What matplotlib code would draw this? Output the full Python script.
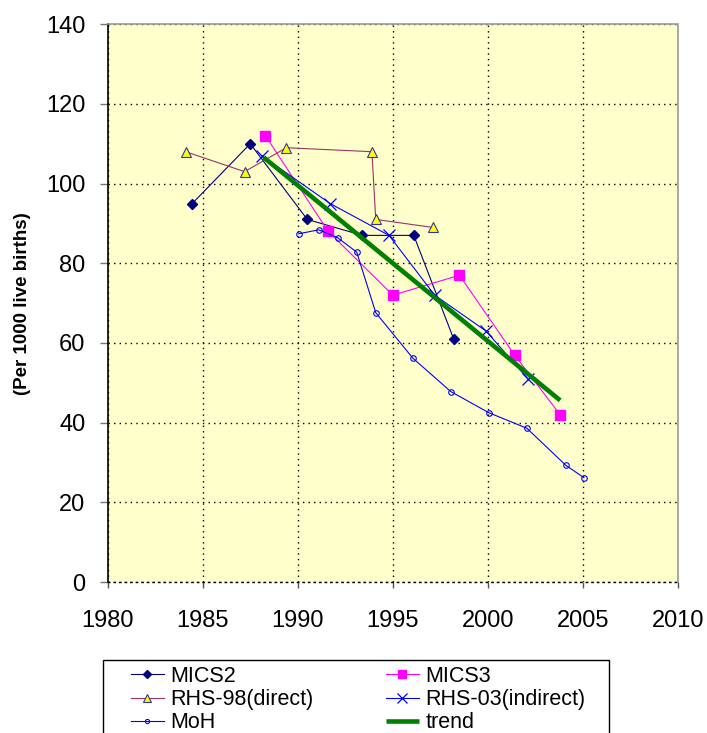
import matplotlib.pyplot as plt
from matplotlib.patches import Rectangle

plt.rcParams['font.family'] = ['Liberation Sans', 'DejaVu Sans']

# Survey series: years and rates per 1000 live births
mics2_year = [1984.45, 1987.5, 1990.5, 1993.4, 1996.1, 1998.2]
mics2_val = [95, 110, 91, 87, 87, 61]

mics3_year = [1988.3, 1991.6, 1995.0, 1998.5, 2001.4, 2003.8]
mics3_val = [112, 88, 72, 77, 57, 42]

rhs98_year = [1984.1, 1987.2, 1989.4, 1993.9, 1994.1, 1997.1]
rhs98_val = [108, 103, 109, 108, 91, 89]

rhs03_year = [1988.1, 1991.7, 1994.8, 1997.2, 1999.9, 2002.1]
rhs03_val = [107, 95, 87, 72, 63, 51]

moh_year = [1990.05, 1991.1, 1992.1, 1993.1, 1994.1, 1996.05, 1998.05,
            2000.05, 2002.05, 2004.1, 2005.05]
moh_val = [87.4, 88.4, 86.4, 82.8, 67.6, 56.2, 47.8, 42.5, 38.6, 29.3, 26.2]

trend_year = [1988.2, 2003.8]
trend_val = [106.6, 45.6]

fig = plt.figure(figsize=(7.07, 7.33), dpi=100)
ax = fig.add_axes([0.1523, 0.2059, 0.8067, 0.7611])
ax.set_facecolor('#FFFFCC')

lw = 0.8
h_mics2, = ax.plot(mics2_year, mics2_val, color='#000080', lw=lw, marker='D',
                   ms=5.5, mfc='#000080', mec='#000080', label='MICS2')
h_mics3, = ax.plot(mics3_year, mics3_val, color='#FF00FF', lw=lw, marker='s',
                   ms=7.5, mfc='#FF00FF', mec='#FF00FF', label='MICS3')
h_rhs98, = ax.plot(rhs98_year, rhs98_val, color='#993366', lw=lw, marker='^',
                   ms=7, mfc='#FFFF00', mec='#333399', mew=0.8,
                   label='RHS-98(direct)')
h_rhs03, = ax.plot(rhs03_year, rhs03_val, color='#0000FF', lw=lw, marker='x',
                   ms=9, mew=0.9, label='RHS-03(indirect)')
h_moh, = ax.plot(moh_year, moh_val, color='#0000FF', lw=lw, marker='o',
                 ms=4, mfc='none', mec='#0000FF', mew=0.8, label='MoH')
h_trend, = ax.plot(trend_year, trend_val, color='#008000', lw=3.3,
                   label='trend', solid_capstyle='butt')

ax.set_xlim(1980, 2010)
ax.set_ylim(0, 140)
ax.set_xticks(range(1980, 2011, 5))
ax.set_yticks(range(0, 141, 20))
ax.grid(True, color='black', linestyle=(0, (1, 3)), lw=1)
ax.set_axisbelow(True)

for side in ('top', 'right'):
    ax.spines[side].set_color('#999999')
    ax.spines[side].set_linestyle((0, (2, 1)))
    ax.spines[side].set_linewidth(1.2)
ax.spines['left'].set_color('black')
ax.spines['left'].set_linewidth(1.2)
ax.spines['bottom'].set_color('black')
ax.spines['bottom'].set_linestyle((0, (1, 3)))
ax.spines['bottom'].set_linewidth(1)

ax.tick_params(axis='x', direction='out', length=4, width=1, color='#555555',
               labelsize=17, pad=16)
ax.tick_params(axis='y', direction='out', length=6, width=1, color='#777777',
               labelsize=17, pad=10)

ax.set_ylabel('(Per 1000 live births)', fontsize=13.5, fontweight='bold')
ax.yaxis.set_label_coords(-0.1345, 0.5)

# legend frame drawn separately so it can run past the bottom edge
fig.patches.append(Rectangle((0.1453, -0.05), 0.7161, 0.1496,
                             transform=fig.transFigure, fill=False,
                             edgecolor='black', lw=1))

handles = [h_mics2, h_rhs98, h_moh, h_mics3, h_rhs03, h_trend]
fig.legend(handles=handles, labels=[h.get_label() for h in handles],
           ncol=2, loc='upper left', bbox_to_anchor=(0.1853, 0.0915),
           fontsize=15.5, frameon=False,
           handlelength=1.53, handletextpad=0.3, columnspacing=3.35,
           labelspacing=0.1, borderpad=0, borderaxespad=0,
           markerscale=0.75)

fig.savefig('out.png', dpi=100)
